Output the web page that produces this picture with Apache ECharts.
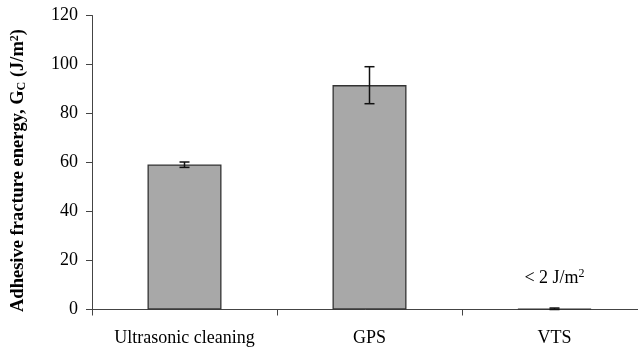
<!DOCTYPE html>
<html><head><meta charset="utf-8">
<script src="https://cdn.jsdelivr.net/npm/echarts@6/dist/echarts.min.js"></script>
<style>html,body{margin:0;padding:0;background:#fff}#c{width:638px;height:349px}</style>
</head><body><div id="c"></div>
<script>
const categories = ['Ultrasonic cleaning', 'GPS', 'VTS'];
const values = [59.2, 91.6, 0.3];
const errLow = [58.0, 84.0, 0.0];
const errHigh = [60.2, 99.1, 0.6];
const yTicks = [0, 20, 40, 60, 80, 100, 120];

const chart = echarts.init(document.getElementById('c'));
const font = 'Liberation Serif, Times New Roman, serif';
chart.setOption({
  animation: false,
  grid: { left: 92, width: 555, top: 15.5, bottom: 39.5, outerBoundsMode: 'none', containLabel: false },
  xAxis: {
    type: 'category', data: categories,
    axisLine: { lineStyle: { color: '#444', width: 1 } },
    axisTick: { show: true, interval: 0, alignWithLabel: false, length: 6, lineStyle: { color: '#444' } },
    axisLabel: { interval: 0, hideOverlap: false, color: '#000', fontFamily: font, fontSize: 18, margin: 20 }
  },
  yAxis: {
    type: 'value', min: 0, max: 120, interval: 20,
    splitLine: { show: false },
    axisLine: { show: true, lineStyle: { color: '#444', width: 1 } },
    axisTick: { show: true, inside: false, length: 6, lineStyle: { color: '#444' } },
    axisLabel: { color: '#000', fontFamily: font, fontSize: 18, margin: 14,
      formatter: v => yTicks.includes(v) ? String(v) : '' },
    name: '{b|Adhesive fracture energy, G}{s|C}{b| (J/m}{p|2}{b|)}',
    nameLocation: 'middle', nameGap: 64, nameRotate: 90,
    nameTextStyle: {
      padding: [0, 16, 0, 0],
      rich: {
        b: { fontFamily: font, fontWeight: 'bold', fontSize: 18.5, color: '#000' },
        s: { fontFamily: font, fontWeight: 'bold', fontSize: 12, color: '#000', verticalAlign: 'bottom', padding: [4,0,0,0] },
        p: { fontFamily: font, fontWeight: 'bold', fontSize: 12, color: '#000', verticalAlign: 'top', padding: [0,0,7,0] }
      }
    }
  },
  series: [
    {
      type: 'bar', data: values, barWidth: 74,
      itemStyle: { color: '#a8a8a8', borderColor: '#333', borderWidth: 1.3 },
      label: {
        show: true, position: 'top', distance: 20,
        formatter: p => p.dataIndex === 2 ? '{t|< 2 J/m}{p|2}' : '',
        rich: {
          t: { fontFamily: font, fontSize: 18, color: '#000' },
          p: { fontFamily: font, fontSize: 12, color: '#000', verticalAlign: 'top', padding: [0,0,9,0] }
        }
      }
    },
    {
      type: 'custom',
      data: categories.map((c, i) => [i, errLow[i], errHigh[i]]),
      renderItem: (params, api) => {
        const i = api.value(0);
        const lo = api.coord([i, api.value(1)]);
        const hi = api.coord([i, api.value(2)]);
        const hw = 5;
        const st = { stroke: '#111', lineWidth: 1.5 };
        return { type: 'group', children: [
          { type: 'line', shape: { x1: lo[0], y1: lo[1], x2: hi[0], y2: hi[1] }, style: st },
          { type: 'line', shape: { x1: lo[0]-hw, y1: lo[1], x2: lo[0]+hw, y2: lo[1] }, style: st },
          { type: 'line', shape: { x1: hi[0]-hw, y1: hi[1], x2: hi[0]+hw, y2: hi[1] }, style: st }
        ]};
      },
      z: 10
    }
  ]
});
</script></body></html>
